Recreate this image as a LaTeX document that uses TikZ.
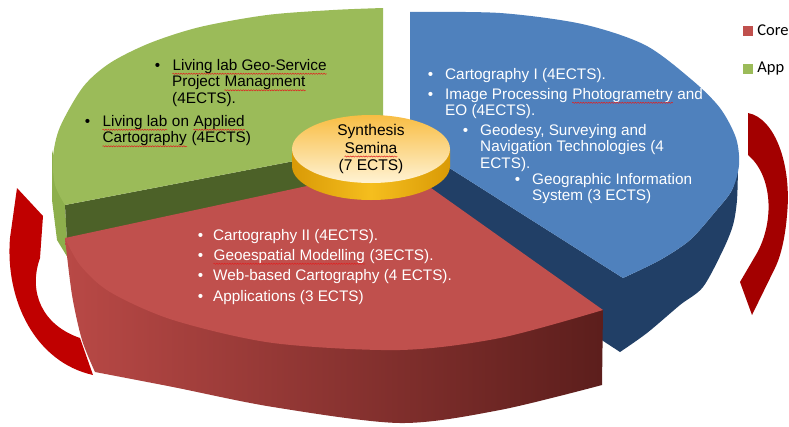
\documentclass[tikz,border=0pt]{standalone}
\usepackage{fontspec}
\setmainfont{Liberation Sans}
\newfontfamily\legendfont{Carlito}
\usetikzlibrary{positioning,decorations.pathmorphing}
\definecolor{greentop}{HTML}{9BBB59}
\definecolor{greenrim}{HTML}{8DAF4C}
\definecolor{greencut}{HTML}{4C6128}
\definecolor{bluetop}{HTML}{4F81BD}
\definecolor{blueside}{HTML}{213F66}
\definecolor{redtop}{HTML}{C0504D}
\definecolor{redsideA}{HTML}{B94946}
\definecolor{redsideB}{HTML}{5C1E1C}
\definecolor{goldA}{HTML}{D99A06}
\definecolor{goldB}{HTML}{F5BE1E}
\definecolor{goldtop}{HTML}{F8BD43}
\definecolor{goldlight}{HTML}{FFF3D4}
\definecolor{arrowred}{HTML}{C00000}
\definecolor{spellred}{HTML}{E02020}
\tikzset{item/.style={font=\fontsize{15.3}{16.5}\selectfont,align=left,inner sep=0pt,anchor=north west},
  white item/.style={item,text=white},
  key/.style={minimum size=10pt,inner sep=0pt},
  legend/.style={font=\legendfont\fontsize{16.5}{18}\selectfont,inner sep=0pt},
  wave/.style={spellred,line width=0.5pt,decorate,decoration={snake,amplitude=0.6pt,segment length=2.6pt}},}
\newcommand{\bul}[1]{\llap{\textbullet\hspace{#1}}}
\newcommand{\spell}[2][black]{\tikz[baseline=(w.base)]{\node[anchor=base west,inner sep=0pt,text=#1] (w) at (0,0) {#2};
  \draw[wave] ([yshift=-3.5pt]w.base west) -- ([yshift=-3.5pt]w.base east);}}

\begin{document}
\begin{tikzpicture}[x=1pt,y=-1pt]
	\useasboundingbox (0,0) rectangle (789,426);
	\clip (0,0) rectangle (789,426);

	% green slice
	\fill[greenrim] (52,150) -- (65,205) -- (68,258) -- (57,240) -- (52,200) -- cycle;
	\fill[greencut] (65,205) -- (383,144) -- (383,214) -- (68,258) -- cycle;
	\fill[greentop] (383,8) -- (383,144) -- (65,205) -- plot[smooth] coordinates {(65,205) (55,185) (53,157) (60,127) (83,87) (110,63) (150,43) (200,27) (267,15) (333,10) (383,8)} -- cycle;

	% blue slice
	\fill[blueside] (410,143) -- (623,278) -- plot[smooth] coordinates {(623,278) (660,260) (690,240) (715,212) (732,190) (738,165)}
	  -- plot[smooth] coordinates {(738,165) (737,200) (733,225) (723,250) (703,287) (680,305) (647,333) (620,352)} -- (410,215) -- cycle;
	\fill[bluetop] (410,12) -- (410,143) -- (623,278) -- plot[smooth] coordinates {(623,278) (660,260) (690,240) (715,212) (732,190) (739,165) (736,138) (720,108) (692,80) (645,45) (582,24) (500,13) (410,12)} -- cycle;

	% red slice
	\shade[left color=redsideA,right color=redsideB] (65,238) -- (603,310) -- (602,385)
	  -- plot[smooth] coordinates {(602,385) (500,410) (400,423) (273,407) (173,387) (95,372)}
	  -- plot[smooth] coordinates {(95,372) (82,340) (72,295) (65,238)} -- cycle;
	\fill[redtop] (65,238) -- (400,166) -- (603,310) -- plot[smooth] coordinates {(603,310) (500,338) (400,350) (273,343) (173,320) (110,292) (80,265) (65,238)} -- cycle;

	% centre
	\shade[left color=goldA,right color=goldA,middle color=goldB] (371,166) ellipse [x radius=79,y radius=34];
	\shade[left color=goldA,right color=goldA,middle color=goldB] (292,149) rectangle (450,166);
	\shade[top color=goldtop,bottom color=goldlight] (371,149) ellipse [x radius=79,y radius=34];
	\node[item,anchor=center,align=center,font=\fontsize{15.5}{17.5}\selectfont] (syn) at (371,149) {Synthesis\\\spell{Semina}\\(7 ECTS)};

	% texts
	\node[item] (g1) at (172,59) {\bul{12pt}\spell{Living lab Geo-Service}\\Project \spell{Managment}\\(4ECTS).};
	\node[item] (g2) at (102,115) {\bul{12pt}\spell{Living lab} on \spell{Applied}\\\spell{Cartography} (4ECTS)};

	\node[white item] (b1) at (445,68) {\bul{12pt}Cartography I (4ECTS).};
	\node[white item] (b2) at (445,88) {\bul{12pt}Image Processing \spell[white]{Photogrametry} and\\EO (4ECTS).};
	\node[white item] (b3) at (480,124) {\bul{12pt}Geodesy, Surveying and\\Navigation Technologies (4\\ECTS).};
	\node[white item] (b4) at (532,173) {\bul{12pt}Geographic Information\\System (3 ECTS)};

	\node[white item] (r1) at (213,229) {\bul{10pt}Cartography II (4ECTS).};
	\node[white item] (r2) at (213,249) {\bul{10pt}\spell[white]{Geoespatial Modelling} (3ECTS).};
	\node[white item] (r3) at (213,269) {\bul{10pt}Web-based Cartography (4 ECTS).};
	\node[white item] (r4) at (213,290) {\bul{10pt}Applications (3 ECTS)};

	% arrows
	\fill[arrowred] (17,188) -- (43,216) -- (40,258) .. controls (28,292) and (42,325) .. (80,338) -- (93,375) .. controls (35,362) and (5,300) .. (10,238) -- cycle;
	\fill[arrowred!85!black] (748,113) .. controls (775,118) and (792,165) .. (787,215) .. controls (785,240) and (780,258) .. (775,268) -- (752,315) -- (740,282) -- (757,253) .. controls (775,220) and (772,175) .. (748,155) -- cycle;

	% legend
	\node[key,fill=redtop] (corekey) at (748,30.5) {};
	\node[legend,right=4pt of corekey] (core) {Core};
	\node[key,fill=greentop] (appkey) at (748,68.5) {};
	\node[legend,right=4pt of appkey] (app) {App};
\end{tikzpicture}
\end{document}
